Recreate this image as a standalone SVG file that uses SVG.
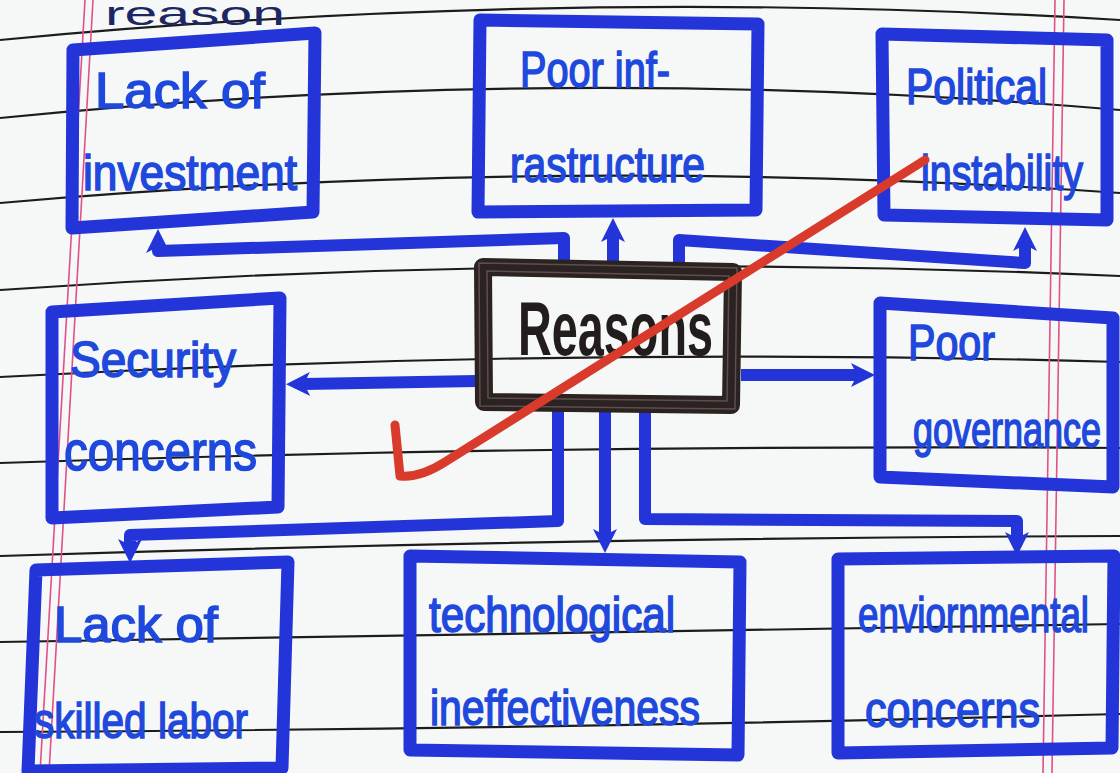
<svg xmlns="http://www.w3.org/2000/svg" width="1120" height="773" viewBox="0 0 1120 773">
<defs>
<style>
.rule{fill:none;stroke:#1c1c1c;stroke-width:2.2}
.margin{fill:none;stroke:#e2508a;stroke-width:1.6}
.box{fill:none;stroke:#2335d8;stroke-width:13;stroke-linejoin:round;stroke-linecap:round}
.conn{fill:none;stroke:#2335d8;stroke-width:12;stroke-linejoin:round;marker-end:url(#arrow)}
.lbl{font-family:"Liberation Sans","Open Sans",sans-serif;font-size:50px;fill:#1f48dc;stroke:#1f48dc;stroke-width:1.6}
.main{font-family:"Liberation Sans",sans-serif;font-weight:bold;font-size:76px;fill:#231c1c}
.frame{fill:none;stroke:#2b2222;stroke-width:18;stroke-linejoin:round}
.frametex{fill:none;stroke:#5e4f4c;stroke-width:1.5}
.red{fill:none;stroke:#d83a2b;stroke-width:9;stroke-linecap:round;stroke-linejoin:round}
</style>
<marker id="arrow" viewBox="0 0 30 30" refX="10" refY="15" markerWidth="30" markerHeight="30" markerUnits="userSpaceOnUse" orient="auto">
<path d="M4,3 L28,15 L4,27 L10,15 Z" fill="#2335d8"/>
</marker>
</defs>
<rect width="1120" height="773" fill="#f6f8f7"/>
<g id="paper">
<path class="rule" d="M0,40 Q560,-14 1120,20"/>
<path class="rule" d="M0,118 Q560,62 1120,110"/>
<path class="rule" d="M0,203 Q560,154 1120,193"/>
<path class="rule" d="M0,290 Q560,251 1120,276"/>
<path class="rule" d="M0,377 Q560,346 1120,362"/>
<path class="rule" d="M0,463 Q560,444 1120,448"/>
<path class="rule" d="M0,556 Q560,538 1120,536"/>
<path class="rule" d="M0,642 Q560,635 1120,624"/>
<path class="rule" d="M0,732 Q560,729 1120,714"/>
<path class="margin" d="M85,0 L40,773"/>
<path class="margin" d="M93,0 L49,773"/>
<path class="margin" d="M1055,0 L1043,773"/>
<path class="margin" d="M1064,0 L1052,773"/>
<text x="105" y="25" font-family="Liberation Sans, sans-serif" font-size="34" fill="#1d2763" textLength="180" lengthAdjust="spacingAndGlyphs">reason</text>
</g>
<g id="connectors">
<path class="conn" d="M564,262 L564,238 L158,251 L158,247"/>
<path class="conn" d="M613,262 L613,236"/>
<path class="conn" d="M679,262 L679,240 L1025,263 L1025,245"/>
<path class="conn" d="M477,381 L304,384"/>
<path class="conn" d="M741,375 L857,375"/>
<path class="conn" d="M558,411 L558,521 L130,535 L130,545"/>
<path class="conn" d="M605,411 L605,535"/>
<path class="conn" d="M645,411 L645,519 L1017,521 L1017,538"/>
</g>
<g id="node-lack-investment">
<path class="box" d="M73,50 L315,33 L313,212 L72,228 Z"/>
<text class="lbl" x="95" y="108" textLength="170" lengthAdjust="spacingAndGlyphs">Lack of</text>
<text class="lbl" x="83" y="190" textLength="214" lengthAdjust="spacingAndGlyphs">investment</text>
</g>
<g id="node-infrastructure">
<path class="box" d="M480,20 L758,24 L756,210 L478,212 Z"/>
<text class="lbl" x="520" y="87" textLength="150" lengthAdjust="spacingAndGlyphs">Poor inf-</text>
<text class="lbl" x="510" y="182" textLength="195" lengthAdjust="spacingAndGlyphs">rastructure</text>
</g>
<g id="node-political">
<path class="box" d="M882,34 L1107,40 L1107,220 L884,215 Z"/>
<text class="lbl" x="906" y="104" textLength="141" lengthAdjust="spacingAndGlyphs">Political</text>
<text class="lbl" x="921" y="190" textLength="162" lengthAdjust="spacingAndGlyphs">instability</text>
</g>
<g id="node-security">
<path class="box" d="M52,312 L280,298 L278,507 L52,518 Z"/>
<text class="lbl" x="70" y="377" textLength="166" lengthAdjust="spacingAndGlyphs">Security</text>
<text class="lbl" x="64" y="470" textLength="193" lengthAdjust="spacingAndGlyphs" style="font-size:56px">concerns</text>
</g>
<g id="node-governance">
<path class="box" d="M880,303 L1113,318 L1113,487 L880,477 Z"/>
<text class="lbl" x="908" y="360" textLength="87" lengthAdjust="spacingAndGlyphs">Poor</text>
<text class="lbl" x="913" y="447" textLength="188" lengthAdjust="spacingAndGlyphs">governance</text>
</g>
<g id="node-skilled-labor">
<path class="box" d="M36,570 L288,562 L282,768 L28,771 Z"/>
<text class="lbl" x="54" y="642" textLength="164" lengthAdjust="spacingAndGlyphs">Lack of</text>
<text class="lbl" x="34" y="738" textLength="214" lengthAdjust="spacingAndGlyphs">skilled labor</text>
</g>
<g id="node-technological">
<path class="box" d="M410,556 L740,562 L738,755 L410,750 Z"/>
<text class="lbl" x="429" y="632" textLength="246" lengthAdjust="spacingAndGlyphs">technological</text>
<text class="lbl" x="430" y="725" textLength="270" lengthAdjust="spacingAndGlyphs">ineffectiveness</text>
</g>
<g id="node-environmental">
<path class="box" d="M838,559 L1114,556 L1112,748 L838,753 Z"/>
<text class="lbl" x="858" y="632" textLength="231" lengthAdjust="spacingAndGlyphs">enviornmental</text>
<text class="lbl" x="865" y="727" textLength="175" lengthAdjust="spacingAndGlyphs">concerns</text>
</g>
<g id="node-reasons">
<path class="frame" d="M483,267 L733,272 L731,405 L484,402 Z"/>
<path class="frametex" d="M479,263 L737,268 L735,409 L480,406 Z"/>
<path class="frametex" d="M487,271 L729,276 L727,401 L488,398 Z"/>
<text class="main" x="518" y="355" textLength="195" lengthAdjust="spacingAndGlyphs">Reasons</text>
</g>
<g id="annotation">
<path class="red" d="M925,160 L445,462 Q420,478 400,476 L395,425"/>
</g>
</svg>
